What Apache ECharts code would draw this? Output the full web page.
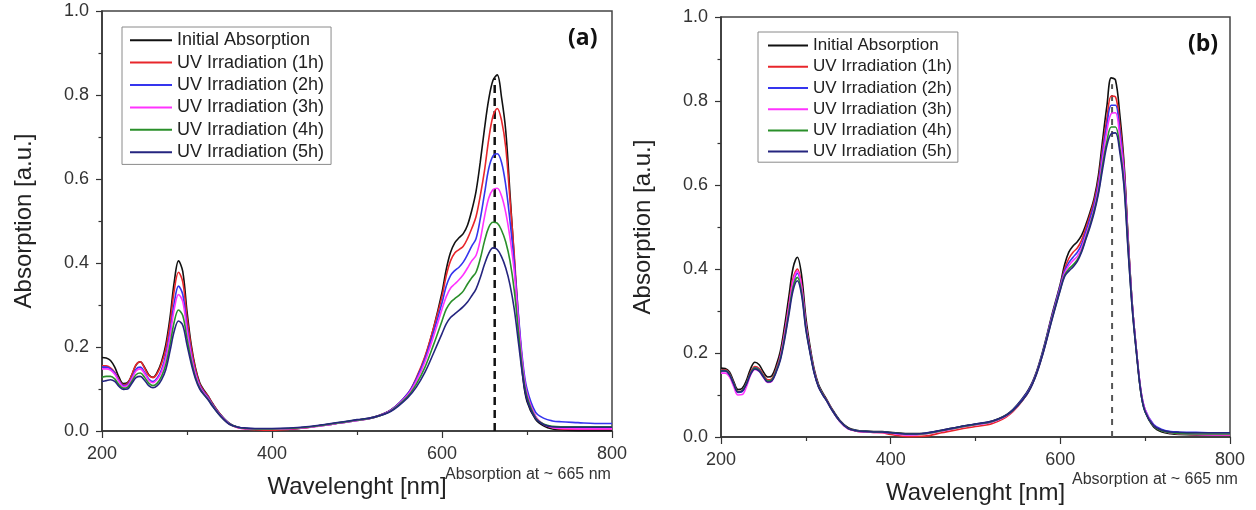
<!DOCTYPE html>
<html><head><meta charset="utf-8">
<script src="https://cdn.jsdelivr.net/npm/echarts@6/dist/echarts.min.js"></script>
<style>html,body{margin:0;padding:0;background:#fff}#c{width:1256px;height:510px}</style>
</head><body><div id="c"></div>
<script>
// wavelengths (nm)
const W = [200,205,210,215,220,225,230,235,240,245,250,255,260,265,270,275,280,285,290,295,300,305,310,315,320,325,330,340,350,360,370,380,390,400,420,440,460,480,500,520,540,560,570,580,590,600,605,610,615,620,625,630,635,640,645,650,655,660,665,670,675,680,685,690,695,700,710,720,730,740,760,780,800];
const names = ['Initial Absorption','UV Irradiation (1h)','UV Irradiation (2h)','UV Irradiation (3h)','UV Irradiation (4h)','UV Irradiation (5h)'];
const colors = ['#111111','#e8262b','#3535ee','#ff33ff','#2a8f2a','#25257f'];
const xTicks = [200,400,600,800];
const yTicks = [0,0.2,0.4,0.6,0.8,1.0];
const peakNote = 'Absorption at ~ 665 nm';
const dashX = [662, 661];
const dashTop = [0.84, 0.84];

// panel (a)
const A0 = [.175,.174,.168,.152,.128,.113,.115,.133,.157,.165,.152,.134,.128,.140,.165,.205,.27,.355,.405,.38,.285,.205,.15,.115,.097,.083,.066,.038,.018,.009,.006,.004,.003,.003,.004,.008,.014,.02,.026,.033,.05,.088,.125,.175,.245,.33,.385,.425,.448,.46,.47,.49,.525,.57,.64,.72,.79,.835,.848,.795,.715,.565,.41,.245,.13,.07,.028,.012,.005,.003,.001,.001,.001];
const A1 = [.155,.155,.15,.14,.122,.11,.113,.133,.158,.165,.15,.132,.127,.137,.16,.195,.255,.335,.378,.355,.27,.198,.146,.112,.095,.082,.065,.037,.017,.008,.005,.003,.002,.002,.004,.008,.013,.019,.025,.032,.05,.09,.128,.178,.245,.32,.37,.405,.424,.432,.44,.458,.482,.51,.56,.62,.695,.75,.768,.74,.675,.55,.42,.27,.155,.09,.035,.015,.008,.005,.004,.004,.004];
const A2 = [.152,.152,.148,.138,.12,.108,.11,.126,.147,.152,.14,.124,.118,.126,.146,.18,.235,.305,.345,.325,.25,.185,.138,.108,.092,.079,.063,.036,.017,.009,.006,.005,.005,.005,.006,.009,.013,.019,.025,.032,.05,.09,.125,.172,.235,.305,.345,.37,.382,.39,.402,.42,.44,.458,.505,.565,.625,.655,.66,.64,.585,.5,.4,.275,.165,.1,.045,.03,.024,.022,.02,.018,.018];
const A3 = [.148,.148,.145,.135,.118,.106,.108,.124,.143,.148,.137,.121,.115,.123,.141,.172,.225,.29,.325,.308,.24,.18,.135,.106,.09,.077,.061,.035,.016,.008,.005,.004,.004,.004,.005,.008,.013,.019,.025,.032,.049,.087,.12,.165,.225,.29,.32,.34,.35,.36,.372,.388,.405,.418,.455,.51,.555,.575,.578,.56,.52,.46,.38,.26,.155,.09,.035,.015,.008,.006,.005,.005,.005];
const A4 = [.128,.13,.13,.124,.11,.102,.104,.118,.134,.138,.128,.114,.108,.114,.13,.158,.205,.26,.288,.275,.22,.168,.128,.102,.087,.075,.06,.034,.016,.009,.006,.005,.005,.005,.006,.009,.014,.02,.026,.032,.048,.083,.112,.152,.205,.262,.29,.306,.315,.323,.333,.35,.365,.378,.41,.452,.485,.497,.495,.478,.45,.405,.335,.235,.14,.082,.032,.016,.011,.01,.01,.01,.01];
const A5 = [.118,.12,.122,.118,.106,.099,.1,.113,.127,.13,.121,.108,.103,.108,.122,.146,.19,.238,.262,.252,.205,.16,.124,.1,.086,.074,.059,.034,.016,.009,.007,.006,.006,.006,.007,.01,.015,.021,.027,.033,.047,.08,.105,.14,.185,.232,.255,.27,.279,.287,.296,.307,.322,.338,.365,.397,.423,.436,.432,.415,.388,.348,.29,.21,.13,.075,.03,.015,.01,.009,.009,.009,.009];

// panel (b)
const B0 = [.164,.163,.155,.132,.113,.116,.135,.163,.178,.172,.155,.143,.146,.17,.205,.265,.335,.403,.428,.385,.285,.215,.16,.125,.105,.088,.07,.04,.022,.016,.014,.013,.013,.011,.008,.009,.016,.024,.031,.038,.058,.105,.145,.21,.29,.365,.41,.44,.455,.465,.48,.505,.535,.57,.625,.71,.79,.855,.85,.77,.655,.47,.31,.2,.105,.06,.024,.012,.008,.006,.005,.005,.005];
const B1 = [.16,.16,.151,.128,.108,.11,.128,.155,.168,.163,.148,.136,.139,.162,.195,.25,.315,.378,.4,.362,.27,.207,.155,.121,.102,.086,.068,.038,.02,.014,.012,.011,.01,.006,.001,.002,.01,.018,.025,.032,.053,.1,.142,.205,.285,.36,.4,.425,.44,.45,.468,.497,.528,.563,.613,.69,.76,.812,.81,.745,.645,.468,.31,.2,.108,.063,.027,.015,.01,.008,.006,.006,.005];
const B2 = [.158,.158,.149,.126,.106,.108,.126,.152,.165,.16,.145,.133,.136,.158,.19,.243,.306,.367,.39,.354,.265,.204,.153,.12,.101,.085,.067,.038,.02,.015,.013,.012,.012,.01,.006,.008,.015,.023,.03,.037,.057,.103,.143,.207,.286,.36,.395,.415,.428,.44,.458,.488,.52,.555,.605,.68,.745,.79,.79,.73,.635,.462,.31,.2,.11,.065,.03,.018,.013,.012,.011,.01,.01];
const B3 = [.152,.152,.143,.12,.1,.101,.12,.148,.161,.156,.142,.13,.133,.156,.19,.244,.309,.371,.395,.357,.266,.204,.153,.12,.101,.085,.067,.037,.019,.014,.012,.011,.011,.009,.005,.007,.014,.022,.029,.036,.055,.1,.14,.203,.282,.355,.39,.408,.42,.43,.45,.48,.51,.545,.595,.665,.73,.77,.772,.715,.625,.455,.305,.2,.11,.065,.028,.015,.01,.008,.006,.005,.005];
const B4 = [.158,.158,.149,.127,.108,.11,.127,.152,.164,.159,.145,.133,.136,.157,.187,.237,.298,.357,.38,.345,.26,.202,.152,.12,.101,.085,.067,.038,.02,.015,.013,.012,.012,.01,.007,.008,.015,.023,.03,.037,.056,.1,.14,.203,.28,.352,.385,.4,.41,.422,.443,.473,.505,.54,.585,.65,.705,.738,.738,.69,.605,.445,.3,.195,.105,.06,.026,.014,.01,.008,.007,.007,.007];
const B5 = [.157,.157,.148,.126,.107,.109,.126,.15,.162,.157,.143,.131,.134,.154,.183,.232,.291,.349,.372,.338,.256,.2,.151,.119,.1,.085,.067,.038,.02,.015,.013,.012,.012,.01,.007,.009,.016,.024,.031,.038,.057,.1,.14,.202,.278,.35,.382,.395,.405,.418,.44,.47,.5,.535,.58,.64,.695,.722,.724,.68,.598,.44,.3,.195,.105,.06,.027,.016,.012,.011,.01,.01,.01];

const panelA = [A0,A1,A2,A3,A4,A5];
const panelB = [B0,B1,B2,B3,B4,B5];

const FONT = '"Liberation Sans", Arial, sans-serif';
const chart = echarts.init(document.getElementById('c'), null, {renderer:'canvas'});

function xAx(gi){
  return {type:'value', gridIndex:gi, min:xTicks[0], max:xTicks[xTicks.length-1], interval:200,
    name:'Wavelenght [nm]', nameLocation:'middle', nameGap:44,
    nameTextStyle:{fontFamily:FONT, fontSize:24, color:'#222'},
    axisLine:{lineStyle:{color:'#333', width:1.5}},
    axisTick:{show:true, length:7, inside:false, lineStyle:{color:'#333', width:1.2}},
    minorTick:{show:true, splitNumber:2, length:4, lineStyle:{color:'#333', width:1.2}},
    axisLabel:{fontFamily:FONT, fontSize:18, color:'#333', margin:14},
    splitLine:{show:false}};
}
function yAx(gi){
  return {type:'value', gridIndex:gi, min:0, max:1, interval:0.2,
    name:'Absorption [a.u.]', nameLocation:'middle', nameGap:66,
    nameTextStyle:{fontFamily:FONT, fontSize:24, color:'#222'},
    axisLine:{lineStyle:{color:'#333', width:1.5}},
    axisTick:{show:true, length:6, lineStyle:{color:'#333', width:1.2}},
    minorTick:{show:true, splitNumber:2, length:3.5, lineStyle:{color:'#333', width:1.2}},
    axisLabel:{fontFamily:FONT, fontSize:18, color:'#333', margin:13, formatter:v=>v.toFixed(1)},
    splitLine:{show:false}};
}

const series = [];
[panelA, panelB].forEach((P, gi) => {
  series.push({type:'line', xAxisIndex:gi, yAxisIndex:gi, z:1, silent:true, symbol:'none',
    data:[[dashX[gi],0],[dashX[gi],dashTop[gi]]],
    lineStyle:{color: gi===0?'#111':'#555', width: gi===0?2.5:2, type: gi===0?[8,5]:[6,6]}});
  P.forEach((arr, si) => {
    series.push({name:names[si], type:'line', xAxisIndex:gi, yAxisIndex:gi, z:2,
      symbol:'none', smooth:0.35,
      data: W.map((w,i)=>[w, arr[i]]),
      color: colors[si],
      lineStyle:{color:colors[si], width:1.6}});
  });
});

function legend(left, top, lh, pad, fs, iw){
  return {data:names, orient:'vertical', left:left, top:top, icon:'rect', itemWidth:iw, itemHeight:2,
    itemGap:0, padding:pad, backgroundColor:'#fff', borderColor:'#8a8a8a', borderWidth:1,
    selectedMode:false,
    textStyle:{fontFamily:FONT, fontSize:fs, color:'#222', lineHeight:lh}};
}

chart.setOption({
  animation:false,
  backgroundColor:'#fff',
  title:[
    {text:'(a)', left:563, top:22, textStyle:{fontFamily:'"Open Sans", sans-serif', fontWeight:'bold', fontSize:23, color:'#111'}},
    {text:'(b)', left:1183, top:28, textStyle:{fontFamily:'"Open Sans", sans-serif', fontWeight:'bold', fontSize:23, color:'#111'}}
  ],
  legend:[legend(122, 27, 22.4, [2,7,1,8], 18, 42), legend(758, 32, 21.2, [3,6,0,10], 17, 40)],
  grid:[
    {left:102, top:11, width:510, height:420, show:true, borderColor:'#444', borderWidth:1.5, backgroundColor:'transparent'},
    {left:721, top:17, width:509, height:420, show:true, borderColor:'#444', borderWidth:1.5, backgroundColor:'transparent'}
  ],
  xAxis:[xAx(0), xAx(1)],
  yAxis:[yAx(0), yAx(1)],
  graphic:[
    {type:'text', left:445, top:467, style:{text:peakNote, font:'16px "Liberation Sans", Arial, sans-serif', fill:'#333'}},
    {type:'text', left:1072, top:472, style:{text:peakNote, font:'16px "Liberation Sans", Arial, sans-serif', fill:'#333'}}
  ],
  series:series
});
</script></body></html>
